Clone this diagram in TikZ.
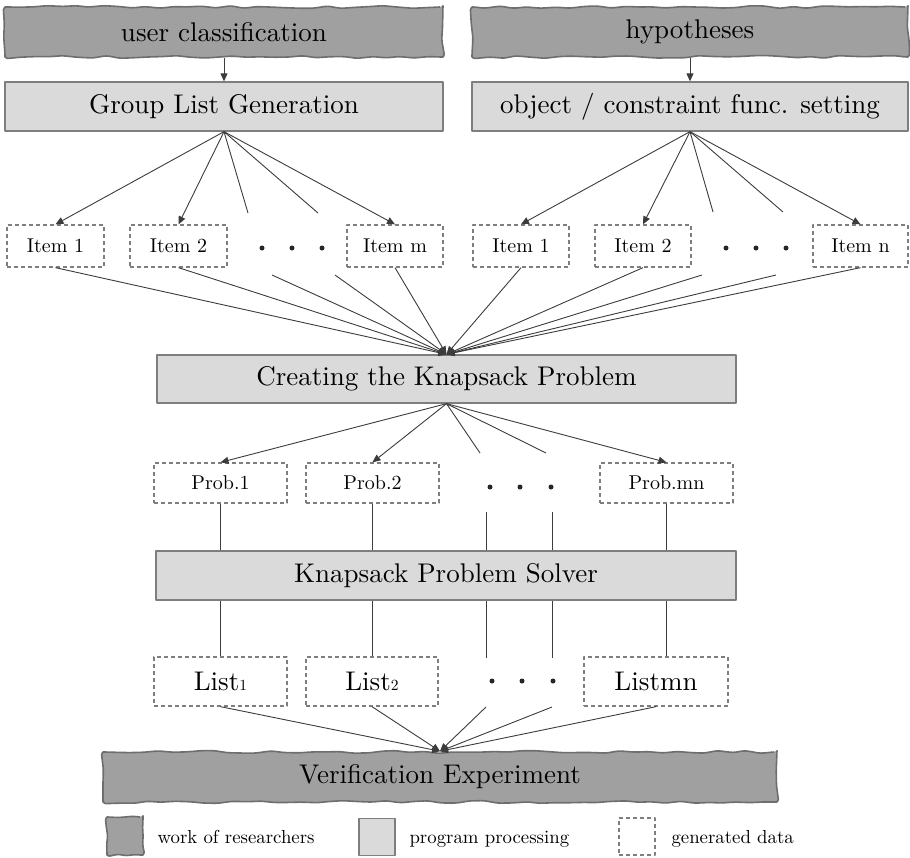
\documentclass[tikz,border=0pt]{standalone}
\usepackage{fontspec}
\setmainfont{lmroman10-regular}[Extension=.otf]
\usetikzlibrary{arrows.meta,decorations.pathmorphing}
\definecolor{darkbar}{HTML}{A0A0A0}
\definecolor{barline}{HTML}{6E6E6E}
\definecolor{lightbox}{HTML}{D9DAD9}
\definecolor{boxline}{HTML}{7E7E7E}
\definecolor{conline}{HTML}{3C3C3C}
\newcommand{\lsub}[1]{\raisebox{-.5pt}{\fontsize{15.5}{16}\selectfont #1}}
\begin{document}
\pgfmathsetseed{12}
\begin{tikzpicture}[x=1pt,y=-1pt,>={Triangle[length=8pt,width=7pt]},line join=round,text=black,
	banner/.style={draw=barline,fill=darkbar,line width=1.6pt,decorate,decoration={random steps,segment length=14pt,amplitude=1.4pt},rounded corners=3pt,minimum height=50pt,inner sep=0pt,font=\fontsize{27}{32}\selectfont},
	procbox/.style={draw=boxline,fill=lightbox,line width=1.3pt,minimum height=49pt,inner sep=0pt,font=\fontsize{27}{32}\selectfont},
	databox/.style={draw=boxline,dashed,dash pattern=on 4pt off 3pt,line width=1.3pt,inner sep=0pt,font=\fontsize{20}{24}\selectfont},
	conn/.style={draw=conline,line width=.9pt},
	dotmark/.style={circle,fill=black!85,inner sep=0pt,minimum size=5pt},
	legtext/.style={anchor=base west,font=\fontsize{18.8}{22}\selectfont}]
	\useasboundingbox (0,0) rectangle (910,857);
	% top row
	\node[banner,minimum width=438pt] (ucls) at (224,32) {user classification};
	\node[banner,minimum width=436pt] (hypo) at (690,32) {hypotheses};
	\node[procbox,minimum width=438pt] (glg) at (224,106.5) {Group List Generation};
	\node[procbox,minimum width=436pt] (ocf) at (690,106.5) {object / constraint func. setting};
	\draw[conn,->] (ucls) -- (glg);
	\draw[conn,->] (hypo) -- (ocf);
	% items
	\node[databox,minimum width=97pt,minimum height=42pt] (i1) at (55.5,246) {Item 1};
	\node[databox,minimum width=97pt,minimum height=42pt] (i2) at (178.5,246) {Item 2};
	\node[databox,minimum width=96pt,minimum height=42pt] (im) at (395,246) {Item m};
	\node[databox,minimum width=96pt,minimum height=42pt] (j1) at (521,246) {Item 1};
	\node[databox,minimum width=96pt,minimum height=42pt] (j2) at (643,246) {Item 2};
	\node[databox,minimum width=95pt,minimum height=42pt] (jn) at (860.5,246) {Item n};
	\foreach \x in {262,292,322,726,756,786} \node[dotmark] (it\x) at (\x,248) {};
	\coordinate (ga) at (248,213); \coordinate (gb) at (318,213);
	\coordinate (ha) at (713,212); \coordinate (hb) at (783,212);
	\coordinate (ia) at (272,275); \coordinate (ib) at (335,275);
	\coordinate (ja) at (702,275); \coordinate (jb) at (776,275);
	\foreach \t in {i1,i2,im} \draw[conn,->] (glg.south) -- (\t.north);
	\foreach \t in {j1,j2,jn} \draw[conn,->] (ocf.south) -- (\t.north);
	\draw[conn] (glg.south) -- (ga) (glg.south) -- (gb);
	\draw[conn] (ocf.south) -- (ha) (ocf.south) -- (hb);
	% knapsack problem
	\node[procbox,minimum width=579pt,minimum height=48pt] (ckp) at (446.5,379) {Creating the Knapsack Problem};
	\foreach \t in {i1,i2,im,j1,j2,jn} \draw[conn,->] (\t.south) -- (ckp.north);
	\foreach \t in {ia,ib,ja,jb} \draw[conn,->] (\t) -- (ckp.north);
	\node[databox,minimum width=133pt,minimum height=40pt] (p1) at (220.5,483) {Prob.1};
	\node[databox,minimum width=133pt,minimum height=40pt] (p2) at (372.5,483) {Prob.2};
	\node[databox,minimum width=133pt,minimum height=40pt] (pmn) at (666.5,483) {Prob.mn};
	\foreach \x in {490,520,551} \node[dotmark] (pd\x) at (\x,487) {};
	\coordinate (ka) at (480,453); \coordinate (kb) at (546,453);
	\foreach \t in {p1,p2,pmn} \draw[conn,->] (ckp.south) -- (\t.north);
	\draw[conn] (ckp.south) -- (ka) (ckp.south) -- (kb);
	% solver
	\node[procbox,minimum width=580pt] (kps) at (446,575.5) {Knapsack Problem Solver};
	\node[databox,minimum width=133pt,minimum height=49pt,font=\fontsize{27}{32}\selectfont] (l1) at (220.5,681.5) {List\lsub{1}};
	\node[databox,minimum width=132pt,minimum height=49pt,font=\fontsize{27}{32}\selectfont] (l2) at (372,681.5) {List\lsub{2}};
	\node[databox,minimum width=144pt,minimum height=49pt,font=\fontsize{27}{32}\selectfont] (lmn) at (656,681.5) {Listmn};
	\foreach \x in {492,522,553} \node[dotmark] (ld\x) at (\x,681) {};
	\coordinate (sa) at (486,512); \coordinate (sb) at (552,512);
	\coordinate (ta) at (486,658); \coordinate (tb) at (552,658);
	\coordinate (ua) at (486,707); \coordinate (ub) at (552,707);
	\draw[conn] (p1.south) -- (p1.south |- kps.north) (p2.south) -- (p2.south |- kps.north)
		(pmn.south) -- (pmn.south |- kps.north);
	\draw[conn] (sa) -- (sa |- kps.north) (sb) -- (sb |- kps.north);
	\draw[conn] (kps.south -| l1.north) -- (l1.north) (kps.south -| l2.north) -- (l2.north)
		(kps.south -| pmn.south) -- (lmn.north -| pmn.south);
	\draw[conn] (kps.south -| ta) -- (ta) (kps.south -| tb) -- (tb);
	% verification
	\node[banner,minimum width=674pt] (ver) at (440,777) {Verification Experiment};
	\foreach \t in {l1,l2,lmn} \draw[conn,->] (\t.south) -- (ver.north);
	\foreach \t in {ua,ub} \draw[conn,->] (\t) -- (ver.north);
	% legend
	\node[banner,minimum width=36pt,minimum height=38pt,decoration={random steps,segment length=8pt,amplitude=.8pt}] (lg1) at (125,836) {};
	\node[legtext] (lt1) at (154,843) {work of researchers};
	\node[procbox,minimum width=36pt,minimum height=37pt] (lg2) at (377,837) {};
	\node[legtext] (lt2) at (406,843) {program processing};
	\node[databox,minimum width=36pt,minimum height=37pt] (lg3) at (637,836.5) {};
	\node[legtext] (lt3) at (668,843) {generated data};
\end{tikzpicture}
\end{document}
